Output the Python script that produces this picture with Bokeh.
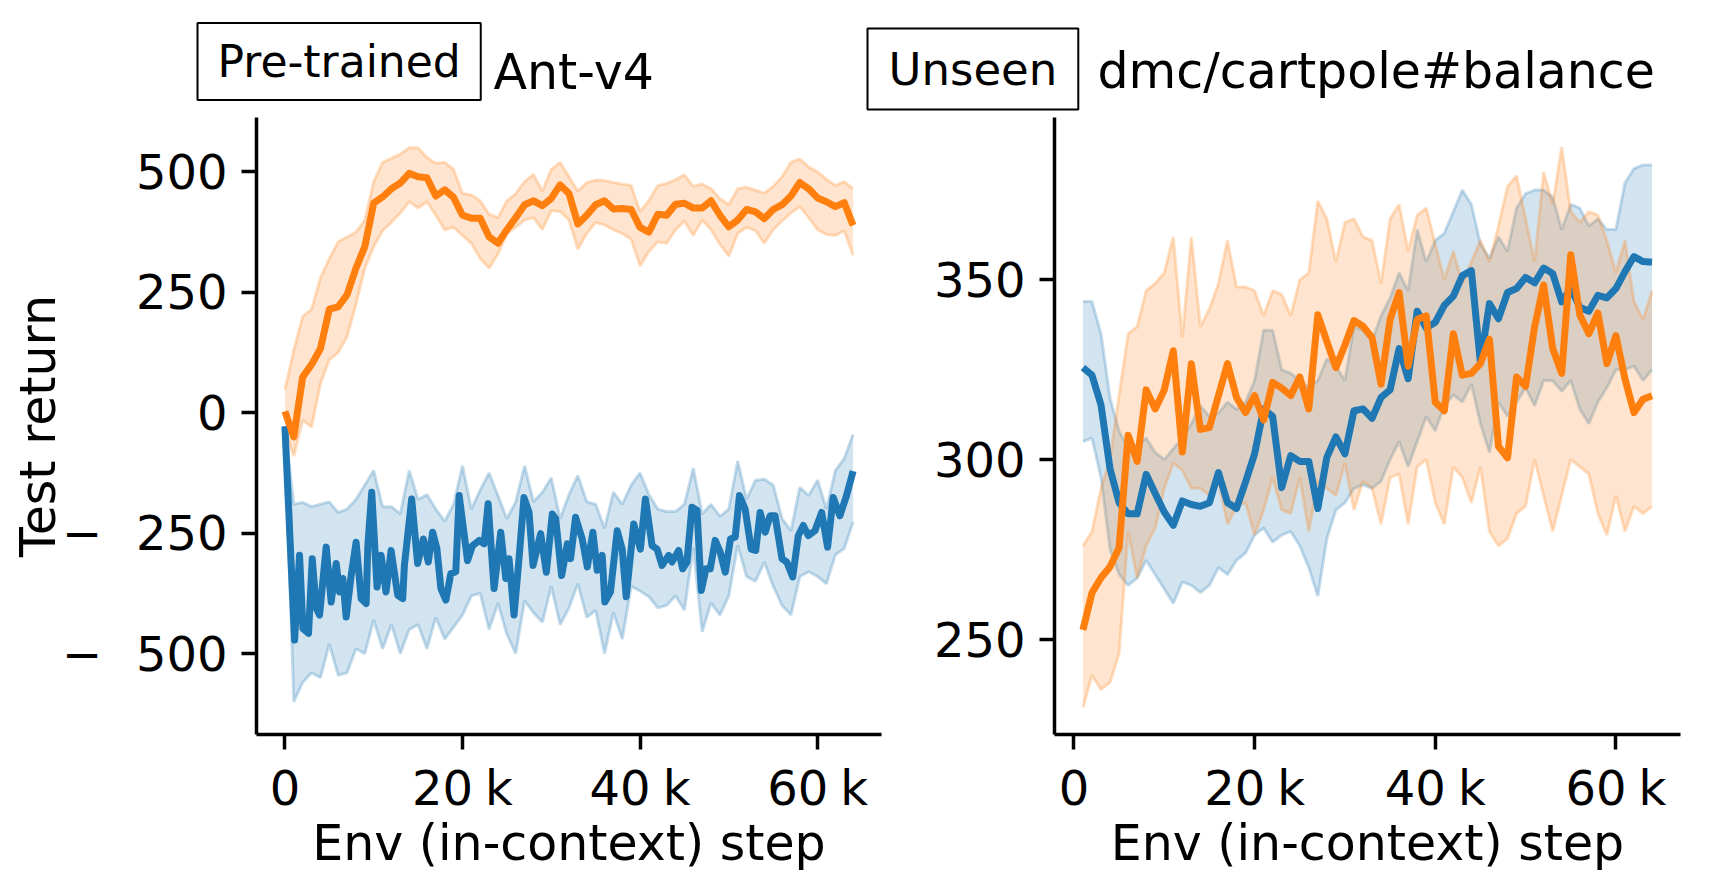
from bokeh.plotting import figure
from bokeh.layouts import row
from bokeh.models import FixedTicker, Title
from bokeh.embed import file_html
from bokeh.resources import INLINE

BLUE = "#1f77b4"
ORANGE = "#ff7f0e"
FONT = "DejaVu Sans"

# ---------------- Left panel: Ant-v4 ----------------
ant_grid = [i * 1000 for i in range(65)]

ant_orange_mean = [3, -50, 74, 100, 133, 215, 220, 245, 300, 345, 435, 448, 465, 477, 497, 490,
                   488, 450, 463, 447, 410, 404, 404, 365, 352, 380, 405, 432, 440, 430, 445, 473,
                   455, 392, 410, 432, 440, 423, 424, 422, 385, 375, 412, 410, 433, 435, 425, 425,
                   440, 410, 386, 400, 422, 417, 403, 422, 432, 450, 478, 465, 446, 438, 428, 436, 389]
ant_orange_hi = [48, 130, 200, 215, 280, 320, 355, 365, 375, 400, 480, 520, 528, 537, 550, 550,
                 530, 518, 520, 505, 455, 452, 440, 412, 405, 440, 455, 480, 495, 460, 505, 520,
                 490, 460, 478, 483, 482, 478, 475, 472, 418, 440, 472, 476, 484, 494, 470, 475,
                 465, 445, 432, 465, 468, 462, 456, 470, 490, 520, 527, 510, 500, 485, 472, 480, 465]
ant_orange_lo = [-34, -90, -15, -30, 60, 110, 125, 158, 225, 300, 345, 378, 395, 415, 438, 425,
                 438, 410, 380, 385, 368, 352, 320, 300, 330, 372, 385, 400, 405, 380, 420, 418,
                 400, 340, 372, 395, 390, 380, 372, 360, 305, 335, 355, 352, 380, 398, 368, 400,
                 380, 350, 325, 372, 385, 378, 352, 380, 398, 415, 428, 405, 380, 370, 368, 378, 327]

ant_blue_x = [0, 1090, 1650, 2030, 2660, 3080, 3530, 3900, 4650, 5210, 5780, 6150, 6530, 6900,
              7460, 8020, 8590, 9150, 9340, 9780, 10380, 10830, 11390, 11960, 12710, 13270,
              13460, 14280, 14950, 15590, 16150, 16640, 17120, 17570, 18130, 18690, 19250,
              19630, 20570, 21130, 21880, 22440, 22890, 23560, 24310, 24880, 25250, 25810,
              26370, 26930, 27500, 27950, 28810, 29450, 30120, 30500, 31170, 31810, 32180,
              32740, 33490, 34060, 34690, 35180, 35740, 36040, 36670, 37430, 37990, 38440,
              39290, 40040, 40610, 41360, 41920, 42480, 43230, 43600, 44350, 44800, 45280,
              45850, 46420, 46900, 47430, 47910, 48470, 49030, 49600, 50190, 50720, 51200,
              51840, 52520, 53030, 53530, 54100, 54650, 55210, 55990, 56530, 57200, 57830,
              58390, 58950, 59700, 60460, 61130, 61760, 62510, 63260, 64000]
ant_blue_mean = [-28, -472, -296, -448, -458, -303, -406, -420, -279, -393, -313, -372, -344, -424,
                 -338, -269, -386, -396, -276, -165, -362, -296, -372, -286, -379, -386,
                 -317, -179, -313, -262, -310, -248, -282, -365, -389, -334, -330,
                 -172, -307, -276, -265, -272, -189, -365, -248, -344, -303, -420,
                 -303, -176, -207, -317, -251, -331, -210, -220, -338, -272, -303,
                 -217, -262, -320, -248, -327, -296, -393, -372, -245, -283, -382,
                 -231, -283, -179, -276, -283, -317, -296, -310, -286, -324, -310,
                 -196, -203, -369, -324, -324, -265, -289, -331, -262, -258, -172,
                 -200, -283, -286, -207, -248, -214, -214, -303, -310, -341, -255,
                 -234, -255, -245, -207, -279, -176, -214, -172, -121]
ant_blue_hi = [-28, -190, -186, -195, -190, -185, -207, -200, -180, -150, -120, -195, -195, -210,
               -120, -180, -170, -200, -225, -190, -110, -200, -160, -125, -172, -220, -185, -110,
               -185, -165, -135, -220, -170, -130, -185, -190, -240, -165, -190, -150, -125, -170,
               -200, -205, -205, -190, -115, -210, -190, -215, -200, -100, -180, -140, -138, -150,
               -220, -245, -155, -172, -140, -200, -120, -95, -45]
ant_blue_lo = [-34, -600, -560, -540, -550, -480, -545, -540, -490, -500, -430, -490, -440, -500,
               -450, -440, -490, -425, -470, -445, -420, -380, -375, -450, -395, -460, -500, -390,
               -415, -435, -360, -440, -405, -355, -425, -410, -500, -415, -470, -360, -370, -382,
               -405, -400, -380, -410, -280, -455, -395, -420, -380, -275, -340, -350, -310, -360,
               -400, -420, -340, -330, -340, -355, -295, -282, -227]

# ---------------- Right panel: dmc/cartpole#balance ----------------
cp_x = [i * 1000 for i in range(1, 65)]

cp_blue_mean = [325.6, 323.5, 315.2, 297.4, 288.0, 284.9, 284.9, 295.9, 290.6, 285.4, 281.7, 288.5,
                287.5, 287.0, 288.0, 296.4, 288.0, 286.4, 293.8, 301.6, 314.1, 312.0, 292.2, 301.1,
                299.5, 299.5, 286.4, 300.6, 306.3, 301.6, 313.6, 314.1, 311.5, 317.3, 319.4, 330.9,
                322.5, 341.3, 336.6, 338.2, 342.9, 345.5, 351.2, 352.6, 327.0, 343.4, 339.2, 346.5,
                347.6, 350.7, 349.2, 353.3, 351.8, 343.9, 347.6, 342.4, 341.3, 345.7, 345.0, 347.6,
                352.3, 356.5, 355.1, 354.9]
cp_blue_hi = [344, 344, 335, 317, 308, 303, 304, 306, 302, 300, 303, 306, 310, 315, 312, 313,
              316, 314, 316, 322, 336, 336, 325, 324, 322, 320, 322, 328, 326, 322, 337, 336,
              333, 340, 345, 352, 347, 364, 355, 361, 363, 369, 375, 371, 360, 356, 362, 358,
              370, 374, 375, 375, 373, 364, 371, 370, 365, 367, 364, 364, 377, 381, 382, 382]
cp_blue_lo = [305, 306, 295, 275, 268, 265, 267, 272, 268, 264, 260, 266, 265, 263, 265, 270,
              268, 272, 274, 279, 281, 277, 279, 280, 276, 270, 262, 278, 286, 288, 292, 293,
              292, 294, 300, 305, 298, 305, 312, 308, 315, 318, 316, 321, 310, 302, 316, 312,
              316, 320, 315, 322, 322, 319, 322, 314, 310, 316, 320, 325, 325, 326, 322, 325]

cp_orange_mean = [252.6, 262.9, 267.1, 270.2, 275.5, 306.8, 299.5, 319.4, 314.1, 319.4, 330.3, 302.1,
                  326.7, 308.4, 308.9, 317.8, 326.7, 317.3, 313.1, 317.8, 311.0, 321.5, 319.9, 317.8,
                  323.0, 314.1, 340.3, 332.9, 325.6, 331.9, 338.7, 337.1, 334.0, 321.0, 339.0, 346.5,
                  326.0, 339.0, 340.0, 316.0, 313.6, 335.0, 323.5, 324.0, 326.7, 333.5, 303.7, 300.5,
                  323.0, 320.4, 337.0, 348.6, 330.9, 324.0, 357.0, 340.3, 335.0, 340.8, 326.7, 334.5,
                  322.5, 313.1, 316.8, 317.8]
cp_orange_hi = [276, 280, 292, 300, 318, 335, 337, 347, 349, 352, 362, 334, 362, 337, 342, 349,
                361, 348, 348, 347, 340, 347, 346, 340, 350, 352, 372, 367, 355, 366, 367, 362,
                361, 349, 367, 371, 358, 368, 370, 360, 350, 358, 349, 355, 361, 355, 365, 376,
                379, 367, 355, 380, 371, 387, 369, 366, 369, 368, 361, 352, 361, 344, 339, 347]
cp_orange_lo = [231, 240, 236, 238, 246, 280, 267, 276, 281, 292, 299, 297, 292, 292, 290, 294,
                282, 287, 288, 279, 286, 295, 286, 285, 295, 280, 294, 292, 290, 299, 286, 294,
                292, 282, 295, 296, 282, 298, 300, 288, 282, 298, 295, 288, 298, 280, 276, 278,
                285, 287, 300, 290, 280, 290, 300, 298, 296, 285, 279, 290, 280, 287, 285, 287]

x_ticks = [0, 20000, 40000, 60000]
x_tick_text = ["0", "20\u2005k", "40\u2005k", "60\u2005k"]
ant_y_ticks = [-500, -250, 0, 250, 500]
ant_y_tick_text = ["\u2212\u2002\u2009500", "\u2212\u2002\u2009250", "0", "250", "500"]
cp_y_ticks = [250, 300, 350]
cp_y_tick_text = ["250", "300", "350"]


def style(p, yticks, ylabels, xlabel, ylabel):
    p.xgrid.visible = False
    p.ygrid.visible = False
    p.outline_line_color = None
    p.background_fill_color = None
    p.border_fill_color = None
    p.xaxis.ticker = FixedTicker(ticks=x_ticks)
    p.xaxis.major_label_overrides = dict(zip(x_ticks, x_tick_text))
    p.yaxis.ticker = FixedTicker(ticks=yticks)
    p.yaxis.major_label_overrides = dict(zip(yticks, ylabels))
    for ax in (p.xaxis[0], p.yaxis[0]):
        ax.axis_line_width = 3.5
        ax.axis_line_color = "black"
        ax.major_tick_line_width = 3.5
        ax.major_tick_out = 15
        ax.major_tick_in = 0
        ax.minor_tick_line_color = None
        ax.major_label_text_font = FONT
        ax.major_label_text_font_size = "48px"
        ax.major_label_text_color = "black"
        ax.axis_label_text_font = FONT
        ax.axis_label_text_font_size = "49px"
        ax.axis_label_text_font_style = "normal"
        ax.axis_label_text_color = "black"
    p.xaxis.axis_label = xlabel
    p.xaxis.major_label_standoff = 10
    p.xaxis.axis_label_standoff = -4
    p.yaxis.major_label_standoff = 14
    p.yaxis.axis_label_standoff = -8
    if ylabel:
        p.yaxis.axis_label = ylabel


def band(p, x, lo, hi, color):
    p.varea(x=x, y1=lo, y2=hi, fill_color=color, fill_alpha=0.2)
    p.line(x, lo, line_color=color, line_alpha=0.25, line_width=3)
    p.line(x, hi, line_color=color, line_alpha=0.25, line_width=3)


def boxed(text, size, offset, standoff, pad):
    return Title(text=text, align="left", offset=offset, standoff=standoff,
                 text_font=FONT, text_font_size=size, text_font_style="normal",
                 text_color="black", border_line_color="black", border_line_width=2,
                 background_fill_color="white", padding=pad)


def plain(text, offset, standoff):
    return Title(text=text, align="left", offset=offset, standoff=standoff,
                 text_font=FONT, text_font_size="49px", text_font_style="normal",
                 text_color="black")


H = 878
LW = 7

p1 = figure(width=893, height=H, x_range=(-3200, 67200), y_range=(-668, 613),
            output_backend="svg", toolbar_location=None,
            min_border_left=256, min_border_right=12, min_border_top=117, min_border_bottom=144)
style(p1, ant_y_ticks, ant_y_tick_text, "Env (in-context) step", "Test return")
band(p1, ant_grid, ant_blue_lo, ant_blue_hi, BLUE)
band(p1, ant_grid, ant_orange_lo, ant_orange_hi, ORANGE)
p1.line(ant_blue_x, ant_blue_mean, line_color=BLUE, line_width=LW, line_join="round")
p1.line(ant_grid, ant_orange_mean, line_color=ORANGE, line_width=LW, line_join="round")
p1.add_layout(boxed("Pre-trained", "44px", -59, 35, (20, 13)), "above")
p1.title = plain("Ant-v4", 237, -195)

p2 = figure(width=834, height=H, x_range=(-2150, 67150), y_range=(223.5, 395.2),
            output_backend="svg", toolbar_location=None,
            min_border_left=188, min_border_right=20, min_border_top=117, min_border_bottom=144)
style(p2, cp_y_ticks, cp_y_tick_text, "Env (in-context) step", None)
band(p2, cp_x, cp_blue_lo, cp_blue_hi, BLUE)
band(p2, cp_x, cp_orange_lo, cp_orange_hi, ORANGE)
p2.line(cp_x, cp_blue_mean, line_color=BLUE, line_width=LW, line_join="round")
p2.line(cp_x, cp_orange_mean, line_color=ORANGE, line_width=LW, line_join="round")
p2.add_layout(boxed("Unseen", "45px", -187, 16, (21, 14)), "above")
p2.title = plain("dmc/cartpole#balance", 43, -162)
p2.margin = (0, 0, 0, -27)

layout = row(p1, p2)
open("out.html", "w").write(file_html(layout, INLINE))
